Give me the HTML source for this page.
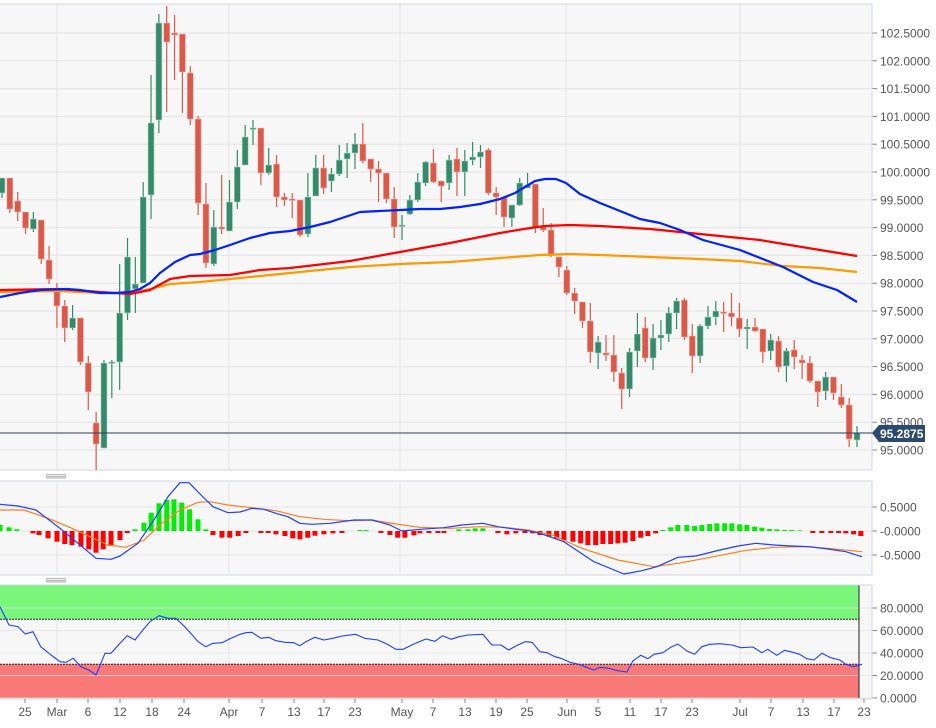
<!DOCTYPE html>
<html><head><meta charset="utf-8"><style>
html,body{margin:0;padding:0;background:#fff;width:936px;height:728px;overflow:hidden}
svg{display:block;font-family:"Liberation Sans",sans-serif}
</style></head><body>
<svg id="s" width="936" height="728" viewBox="0 0 936 728"></svg>
<script>
const S=document.getElementById('s');let h='';
h+='<rect x="0" y="4" width="872" height="466" fill="#f7f7f7"/>';
h+='<rect x="0" y="481" width="872" height="94" fill="#f7f7f7"/>';
h+='<rect x="0" y="585" width="872" height="114" fill="#f7f7f7"/>';
const py=p=>450-(p-95)*55.6;
for(let p=95;p<=102.5001;p+=0.5){const y=py(p);h+=`<line x1="0" x2="872" y1="${y}" y2="${y}" stroke="#e3e3e3"/>`;
h+=`<line x1="872" x2="877" y1="${y}" y2="${y}" stroke="#888"/><text x="880" y="${y+4.5}" font-size="12" fill="#555">${p.toFixed(4)}</text>`;}
const vx=[57,229,400,566,740];
vx.forEach(x=>{h+=`<line x1="${x}" x2="${x}" y1="4" y2="470" stroke="#e3e3e3"/><line x1="${x}" x2="${x}" y1="481" y2="575" stroke="#e3e3e3"/><line x1="${x}" x2="${x}" y1="585" y2="699" stroke="#e3e3e3"/>`});
[[507,'0.5000'],[531,'-0.0000'],[555,'-0.5000']].forEach(([y,t])=>{h+=`<line x1="0" x2="872" y1="${y}" y2="${y}" stroke="#e3e3e3"/><line x1="872" x2="877" y1="${y}" y2="${y}" stroke="#888"/><text x="880" y="${y+4.5}" font-size="12" fill="#555">${t}</text>`});
const ry=v=>698-v*1.125;
const RE=859;
h+=`<rect x="0" y="${ry(100)-1}" width="${RE}" height="${ry(70)-ry(100)+1}" fill="#7af77a"/>`;
h+=`<rect x="0" y="${ry(30)}" width="${RE}" height="${ry(0)-ry(30)}" fill="#f97979"/>`;
[0,20,40,60,80].forEach(v=>{const y=ry(v);h+=`<line x1="0" x2="872" y1="${y}" y2="${y}" stroke="#e3e3e3" opacity="0.7"/><line x1="872" x2="877" y1="${y}" y2="${y}" stroke="#888"/><text x="880" y="${y+4.5}" font-size="12" fill="#555">${v.toFixed(4)}</text>`});
h+=`<line x1="0" x2="${RE}" y1="${ry(70)}" y2="${ry(70)}" stroke="#222" stroke-dasharray="2,1"/><line x1="0" x2="${RE}" y1="${ry(30)}" y2="${ry(30)}" stroke="#222" stroke-dasharray="2,1"/><line x1="${RE}" x2="${RE}" y1="${ry(100)-1}" y2="${ry(0)}" stroke="#222"/>`;
h+='<line x1="0" x2="872" y1="4" y2="4" stroke="#cfd6e6"/><line x1="872" x2="872" y1="4" y2="470" stroke="#cfd6e6"/><line x1="0" x2="872" y1="470" y2="470" stroke="#cfd6e6"/>';
h+='<line x1="0" x2="872" y1="481" y2="481" stroke="#cfd6e6"/><line x1="872" x2="872" y1="481" y2="575" stroke="#cfd6e6"/><line x1="0" x2="872" y1="575" y2="575" stroke="#cfd6e6"/>';
h+='<line x1="0" x2="872" y1="585" y2="585" stroke="#cfd6e6"/><line x1="872" x2="872" y1="585" y2="699" stroke="#cfd6e6"/><line x1="0" x2="872" y1="699" y2="699" stroke="#cfd6e6"/>';
[[46,474.5],[46,578.5]].forEach(([x,y])=>{for(let k=0;k<3;k++)h+=`<line x1="${x}" x2="${x+20}" y1="${y+k*1.7}" y2="${y+k*1.7}" stroke="#777" stroke-width="0.6"/>`});
const C=[[178,193,178,198,1],[178,209,178,213,0],[201,212,192,221,0],[212,228,212,234,0],[219,229,212,232,1],[220,259,220,264,0],[260,279,246,284,0],[290,306,283,328,0],[306,328,300,342,0],[318,328,305,330,1],[318,362,318,365,0],[363,392,356,410,0],[423,444,412,470,0],[363,448,360,448,1],[362,362,360,398,1],[313,362,264,390,1],[257,313,238,320,1],[284,289,257,313,1],[197,283,182,283,1],[123,195,75,219,1],[23,120,14,133,1],[23,42,6,112,0],[33,35,15,80,0],[34,72,34,113,0],[73,119,66,125,0],[119,203,116,215,0],[204,263,183,268,0],[227,264,210,266,1],[227,229,175,234,0],[202,231,180,231,1],[167,202,150,209,1],[137,165,125,165,1],[128,128,120,145,1],[128,173,128,185,0],[165,173,148,175,1],[164,197,155,207,0],[197,200,193,206,0],[199,200,193,218,0],[200,235,200,237,0],[197,234,173,237,1],[168,196,155,196,1],[168,188,155,194,0],[174,181,168,192,1],[160,174,145,176,1],[153,159,143,178,1],[144,153,133,169,1],[144,161,123,163,0],[159,169,159,182,0],[169,173,161,202,0],[173,199,173,203,0],[199,227,187,238,0],[225,225,215,240,1],[200,214,195,215,1],[182,200,173,202,1],[162,183,161,186,1],[163,182,149,183,0],[181,186,181,202,0],[160,183,155,190,1],[159,172,148,196,0],[161,172,150,196,1],[157,160,142,165,1],[152,157,145,168,1],[150,193,148,195,0],[193,197,187,215,0],[197,217,197,227,0],[205,218,205,227,1],[183,205,178,206,1],[185,188,173,188,1],[184,227,184,233,0],[227,230,208,232,0],[230,256,223,257,0],[257,267,257,277,0],[270,293,266,295,0],[293,301,288,314,0],[302,321,302,328,0],[321,352,303,363,0],[342,353,336,369,1],[353,355,335,361,0],[355,372,335,382,0],[373,389,368,409,0],[352,389,348,397,1],[334,351,313,367,1],[328,358,317,362,0],[338,358,324,370,1],[335,338,320,350,1],[313,334,307,342,1],[301,313,298,329,1],[300,337,298,340,0],[336,356,324,373,0],[326,356,324,363,1],[317,326,306,329,1],[311,317,301,325,1],[312,313,302,332,0],[313,317,293,326,0],[318,329,303,337,0],[327,329,319,349,1],[327,331,318,332,0],[329,352,329,363,0],[340,351,334,360,1],[341,367,336,372,0],[351,366,348,382,1],[350,357,340,369,0],[360,363,355,379,0],[363,381,356,383,0],[381,392,381,407,0],[377,391,372,400,1],[377,393,377,400,0],[397,405,384,408,0],[405,439,398,447,0],[433,440,426,447,1]];
const cx=i=>2+i*7.844;
C.forEach((c,i)=>{const x=cx(i);const col=c[4]?'#358a6c':'#d95a4a';
h+=`<line x1="${x}" x2="${x}" y1="${c[2]}" y2="${c[3]}" stroke="${col}" stroke-width="1.2"/>`;
const bh=Math.max(1.5,c[1]-c[0]);h+=`<rect x="${x-3}" y="${c[0]}" width="6" height="${bh}" fill="${col}" stroke="${c[4]?'#a9d3c4':'#f0b3ab'}" stroke-width="0.6"/>`;});
const pl=(pts,col,w)=>`<polyline fill="none" stroke="${col}" stroke-width="${w}" stroke-linejoin="round" points="${pts.map(p=>p.join(',')).join(' ')}"/>`;
h+=pl([[0,292],[60,291],[100,293],[130,293],[150,289],[170,284],[200,282],[230,279],[260,276],[300,272],[350,267],[400,264],[450,262],[500,258],[540,255],[570,254],[600,255],[650,257],[700,259],[740,261],[783,266],[820,268],[857,272]],'#ff9900',2.2);
h+=pl([[0,290],[60,289],[100,292],[130,294],[150,290],[170,279],[190,276],[230,275],[260,270],[290,268],[350,261],[400,252],[450,243],[500,233],[530,228],[545,226],[570,225],[600,226],[650,229],[700,234],[760,240],[820,250],[857,256]],'#ff0000',2.2);
h+=pl([[0,297],[20,293],[40,290],[67,289],[80,290],[100,293],[115,293],[130,292],[140,289],[150,283],[160,273],[175,262],[190,255],[200,254],[215,250],[230,245],[250,238],[270,233],[290,231],[310,227],[330,222],[360,212],[380,211],[400,210],[420,209],[440,209],[460,207],[480,204],[500,199],[515,193],[525,187],[535,181],[545,179],[556,179],[566,183],[580,194],[600,203],[620,211],[640,219],[660,223],[680,230],[703,240],[740,250],[783,267],[813,282],[837,290],[857,302]],'#0022ff',2.2);
h+='<line x1="0" x2="872" y1="433" y2="433" stroke="#2c3e5a" stroke-width="1"/>';
h+='<path d="M872 433 L879 425 L925 425 L925 442 L879 442 Z" fill="#2c4a6e"/><text x="880" y="438" font-size="12" font-weight="bold" fill="#fff">95.2875</text>';
const HB=[[0,165],[15,172],[28,178],[55,190],[65,195],[80,205],[95,215],[108,222],[120,225],[135,230],[148,238],[160,248],[172,238],[185,228],[200,210],[212,188],[225,178],[240,158],[252,128],[265,100],[278,90],[290,88],[303,98],[316,118],[330,148],[343,178],[355,195],[370,203],[383,203],[397,198],[410,188],[435,185],[447,188],[460,193],[475,198],[488,205],[500,208],[513,203],[525,197],[540,193],[555,190],[570,186],[600,180],[610,180],[635,186],[650,195],[663,203],[675,203],[690,196],[700,190],[715,186],[730,186],[740,183],[765,178],[780,178],[792,175],[805,175],[830,188],[845,193],[860,190],[875,187],[888,190],[900,195],[915,200],[928,205],[940,210],[955,215],[968,220],[980,225],[993,225],[1005,222],[1018,222],[1030,220],[1042,218],[1055,213],[1068,203],[1080,198],[1093,190],[1105,180],[1118,172],[1130,165],[1145,165],[1158,168],[1170,165],[1183,162],[1195,160],[1208,160],[1220,160],[1233,163],[1245,165],[1258,170],[1270,173],[1283,177],[1295,178],[1308,180],[1320,180],[1333,181],[1355,186],[1370,188],[1385,188],[1398,188],[1410,190],[1423,193],[1435,198]];
HB.forEach(([zx,zy])=>{const x=zx/1.667;const y=470+zy/3;const z=531;
if(y<z)h+=`<rect x="${x-2.5}" y="${y}" width="5" height="${z-y}" fill="#00ee00"/>`;else h+=`<rect x="${x-2.5}" y="${z}" width="5" height="${Math.max(2,y-z)}" fill="#ff0000"/>`;});
const cv=a=>a.map(([x,y])=>[(x/1.667).toFixed(1),(470+y/3).toFixed(1)]);
h+=pl(cv([[0,120],[40,120],[80,145],[120,175],[150,200],[180,225],[210,232],[240,210],[270,160],[300,120],[330,97],[350,95],[380,105],[420,113],[460,122],[500,140],[540,148],[580,152],[620,150],[660,162],[700,172],[750,175],[800,170],[840,172],[880,180],[920,195],[970,235],[1030,270],[1090,290],[1130,280],[1190,260],[1240,242],[1290,232],[1340,230],[1380,235],[1437,245]]),'#ff7f1e',1.2);
h+=pl(cv([[0,103],[30,108],[60,120],[100,175],[130,220],[160,265],[185,268],[200,258],[230,220],[260,140],[280,80],[300,38],[315,38],[335,75],[355,110],[380,128],[400,126],[420,115],[440,118],[460,130],[480,140],[500,160],[520,163],[550,160],[590,150],[620,150],[650,165],[670,183],[700,178],[740,173],[770,165],[805,160],[830,170],[860,178],[880,182],[900,190],[940,215],[990,275],[1040,312],[1070,302],[1095,290],[1130,262],[1160,258],[1200,240],[1230,228],[1260,220],[1290,225],[1320,228],[1350,230],[1380,237],[1410,245],[1437,260]]),'#1f3fff',1.2);
h+=pl(cv([[0,410],[15,465],[30,470],[42,492],[55,485],[68,530],[85,555],[100,575],[110,577],[122,565],[135,590],[148,600],[160,615],[175,550],[185,550],[200,520],[212,497],[225,510],[238,480],[250,455],[265,437],[280,445],[293,445],[305,465],[318,490],[330,515],[343,530],[355,520],[370,518],[385,505],[400,493],[410,488],[420,487],[435,505],[448,502],[460,512],[475,517],[490,518],[500,527],[510,515],[525,502],[540,510],[555,505],[570,498],[593,493],[608,505],[630,510],[645,522],[660,538],[672,538],[690,522],[710,507],[725,514],[738,497],[752,508],[765,500],[780,495],[805,493],[820,525],[835,525],[848,540],[860,528],[875,515],[887,517],[900,545],[912,548],[925,560],[935,565],[950,577],[963,582],[975,590],[990,600],[1000,592],[1015,595],[1030,602],[1045,606],[1055,573],[1068,556],[1080,566],[1090,553],[1105,548],[1118,532],[1130,522],[1145,543],[1158,553],[1170,530],[1183,523],[1200,521],[1220,525],[1235,533],[1255,531],[1270,548],[1280,538],[1295,556],[1308,541],[1322,547],[1333,553],[1345,566],[1357,570],[1370,550],[1385,563],[1400,570],[1410,583],[1423,590],[1437,583]]),'#1f3fff',1.1);
[['25',25],['Mar',57],['6',88],['12',120],['18',152],['24',184],['Apr',229],['7',262],['13',294],['17',324],['23',355],['May',402],['7',433],['13',465],['19',496],['25',527],['Jun',567],['5',598],['11',630],['17',661],['23',692],['Jul',740],['7',771],['13',803],['17',834],['23',864]].forEach(([t,x])=>{h+=`<line x1="${x}" x2="${x}" y1="699" y2="703" stroke="#888"/><text x="${x}" y="716" font-size="12" fill="#555" text-anchor="middle">${t}</text>`});
S.innerHTML=h;
</script>
</body></html>
